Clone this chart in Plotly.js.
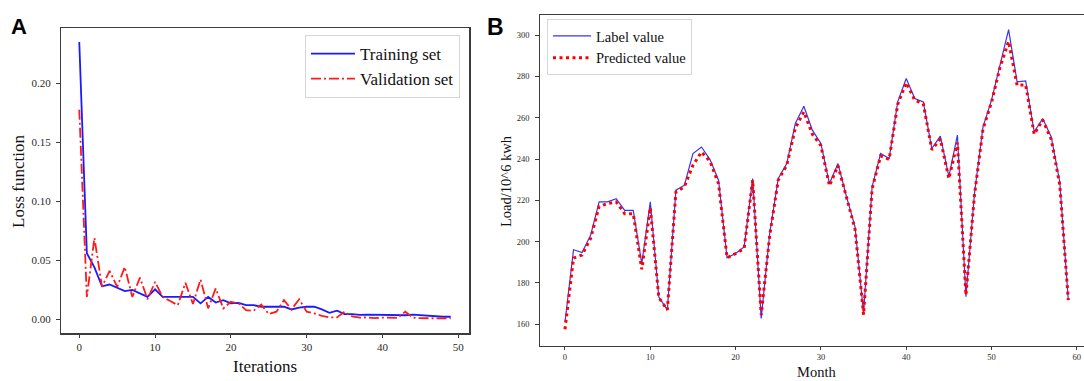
<!DOCTYPE html>
<html>
<head>
<meta charset="utf-8">
<script src="https://cdn.plot.ly/plotly-3.0.1.min.js"></script>
<style>
html,body{margin:0;padding:0;background:#fff;}
#chart{width:1084px;height:381px;}
</style>
</head>
<body>
<div id="chart"></div>
<script>
// ---- Panel A data: loss per iteration ----
const iterations = Array.from({length: 50}, (_, i) => i);
const trainingLoss = [0.235,0.056,0.044,0.028,0.0295,0.0265,0.024,0.025,0.022,0.019,
  0.0255,0.019,0.019,0.019,0.019,0.019,0.0135,0.019,0.0143,0.0163,
  0.0135,0.014,0.012,0.012,0.0107,0.0107,0.0107,0.0107,0.0084,0.0100,
  0.0107,0.0107,0.0085,0.0056,0.0073,0.0045,0.0045,0.0038,0.0040,0.0038,
  0.0040,0.0037,0.0033,0.0035,0.0040,0.0035,0.0030,0.0025,0.0022,0.0022];
const validationLoss = [0.1775,0.019,0.069,0.0275,0.041,0.0275,0.0444,0.019,0.0354,0.017,
  0.0317,0.019,0.0155,0.012,0.031,0.013,0.0338,0.0093,0.0262,0.0093,
  0.0149,0.0135,0.0078,0.0073,0.0125,0.0045,0.0065,0.0163,0.0084,0.017,
  0.0065,0.0051,0.0030,0.0017,0.0017,0.0065,0.0025,0.0014,0.0017,0.0010,
  0.0015,0.0012,0.0012,0.0065,0.0015,0.0010,0.0010,0.0008,0.0008,0.0008];

// ---- Panel B data: monthly load ----
const months = Array.from({length: 60}, (_, i) => i);
const labelValue = [161,196,194.7,203,219.2,219.2,220.8,215.1,215.1,189.3,
  219.2,173.1,166.9,224.9,227.3,242.6,245.8,239.7,229.7,192.1,
  194.2,197.4,230.5,162.7,204,230.6,237.8,257.2,265.6,254,
  247.5,228.1,237.8,221.7,207.1,165.2,226.5,242.7,240.2,267.7,
  279,269.3,267.7,245.1,251.1,231.4,251.6,173.2,223.3,255.6,
  268.5,286.3,302.7,277.4,277.9,253.2,259.6,250.7,228.9,171.6];
const predictedValue = [157.5,192,193.5,201.5,217,218.4,219.2,213.5,213.5,186.5,
  216.4,172.8,166.9,224,226.5,237,243.4,238.9,228,192.1,
  194.2,196.6,229.7,164.4,203,229.8,237,255,262.9,252,
  246.5,227,236.8,221,206,164.5,225.5,241.5,239.8,266.5,
  277,268.5,266.8,244.5,249.7,230.5,248,174,222.5,254.5,
  267.5,284.5,297,275.7,276,252,259,249.5,227.5,171.6];

const lossTicks = [0, 0.05, 0.10, 0.15, 0.20];
const loadTicks = [160, 180, 200, 220, 240, 260, 280, 300];

// ---- layout helpers (pixel -> paper) ----
const W = 1084, H = 381;
const px = x => x / W;
const py = y => 1 - y / H;

const SERIF = '"Liberation Serif", "Times New Roman", serif';
const SANS = '"Liberation Sans", Arial, sans-serif';
const FRAME = '#3c3c3c';
const TICKC = '#2a2a2a';

const traces = [
  {x: iterations, y: trainingLoss, type: 'scatter', mode: 'lines', name: 'Training set',
   xaxis: 'x', yaxis: 'y', legend: 'legend',
   line: {color: '#1a1aff', width: 1.8}},
  {x: iterations, y: validationLoss, type: 'scatter', mode: 'lines', name: 'Validation set',
   xaxis: 'x', yaxis: 'y', legend: 'legend',
   line: {color: '#ff1a1a', width: 1.8, dash: '10px,3px,2px,3px'}},
  {x: months, y: labelValue, type: 'scatter', mode: 'lines', name: 'Label value',
   xaxis: 'x2', yaxis: 'y2', legend: 'legend2',
   line: {color: '#3333ff', width: 1.2}},
  {x: months, y: predictedValue, type: 'scatter', mode: 'lines', name: 'Predicted value',
   xaxis: 'x2', yaxis: 'y2', legend: 'legend2',
   line: {color: '#ff0000', width: 3, dash: '3px,3.5px'}}
];

const axisCommon = {
  showgrid: false, zeroline: false, showline: true, linecolor: FRAME, linewidth: 1.2,
  ticks: 'outside', ticklen: 3.5, tickwidth: 1, tickcolor: FRAME,
  tickfont: {family: SERIF, color: TICKC}
};

const layout = {
  width: W, height: H,
  margin: {l: 0, r: 0, t: 0, b: 0, pad: 0},
  paper_bgcolor: '#ffffff', plot_bgcolor: '#ffffff',
  showlegend: true,
  xaxis: Object.assign({}, axisCommon, {
    domain: [px(60.7), px(469.3)], anchor: 'y', range: [-2.45, 51.45],
    tickvals: [0, 10, 20, 30, 40, 50], mirror: true,
    tickfont: {family: SERIF, color: TICKC, size: 11}
  }),
  yaxis: Object.assign({}, axisCommon, {
    domain: [py(333.3), py(28)], anchor: 'x', range: [-0.0118, 0.2468],
    tickvals: lossTicks, tickformat: '.2f', mirror: true, ticklabelstandoff: 3,
    tickfont: {family: SERIF, color: TICKC, size: 11}
  }),
  xaxis2: Object.assign({}, axisCommon, {
    domain: [px(540), 1], anchor: 'y2', range: [-2.93, 60.84],
    tickvals: [0, 10, 20, 30, 40, 50, 60], mirror: true,
    tickfont: {family: SERIF, color: TICKC, size: 8.5}
  }),
  yaxis2: Object.assign({}, axisCommon, {
    domain: [py(345.5), py(15)], anchor: 'x2', range: [149.6, 309.8],
    tickvals: loadTicks, mirror: false, ticklabelstandoff: 4,
    tickfont: {family: SERIF, color: TICKC, size: 8.5}
  }),
  legend: {
    x: px(305), y: py(35), xanchor: 'left', yanchor: 'top',
    bgcolor: '#ffffff', bordercolor: '#d6d6d6', borderwidth: 1, itemwidth: 44,
    font: {family: SERIF, size: 17, color: '#111'}
  },
  legend2: {
    x: px(547), y: py(19), xanchor: 'left', yanchor: 'top',
    bgcolor: '#ffffff', bordercolor: '#d6d6d6', borderwidth: 1, itemwidth: 38,
    font: {family: SERIF, size: 14.5, color: '#111'}
  },
  annotations: [
    {text: '<b>A</b>', xref: 'paper', yref: 'paper', x: px(9), y: py(26), xanchor: 'left', yanchor: 'middle',
     showarrow: false, font: {family: SANS, size: 22, color: '#000'}},
    {text: '<b>B</b>', xref: 'paper', yref: 'paper', x: px(485), y: py(27), xanchor: 'left', yanchor: 'middle',
     showarrow: false, font: {family: SANS, size: 23, color: '#000'}},
    {text: 'Iterations', xref: 'paper', yref: 'paper', x: px(265), y: py(366), xanchor: 'center', yanchor: 'middle',
     showarrow: false, font: {family: SERIF, size: 17, color: '#111'}},
    {text: 'Loss function', xref: 'paper', yref: 'paper', x: px(18), y: py(181), xanchor: 'center', yanchor: 'middle',
     textangle: -90, showarrow: false, font: {family: SERIF, size: 17, color: '#111'}},
    {text: 'Month', xref: 'paper', yref: 'paper', x: px(816), y: py(372), xanchor: 'center', yanchor: 'middle',
     showarrow: false, font: {family: SERIF, size: 14.5, color: '#111'}},
    {text: 'Load/10^6 kwh', xref: 'paper', yref: 'paper', x: px(506), y: py(181), xanchor: 'center', yanchor: 'middle',
     textangle: -90, showarrow: false, font: {family: SERIF, size: 14.5, color: '#111'}}
  ]
};

Plotly.newPlot('chart', traces, layout, {staticPlot: true, displayModeBar: false});
</script>
</body>
</html>
